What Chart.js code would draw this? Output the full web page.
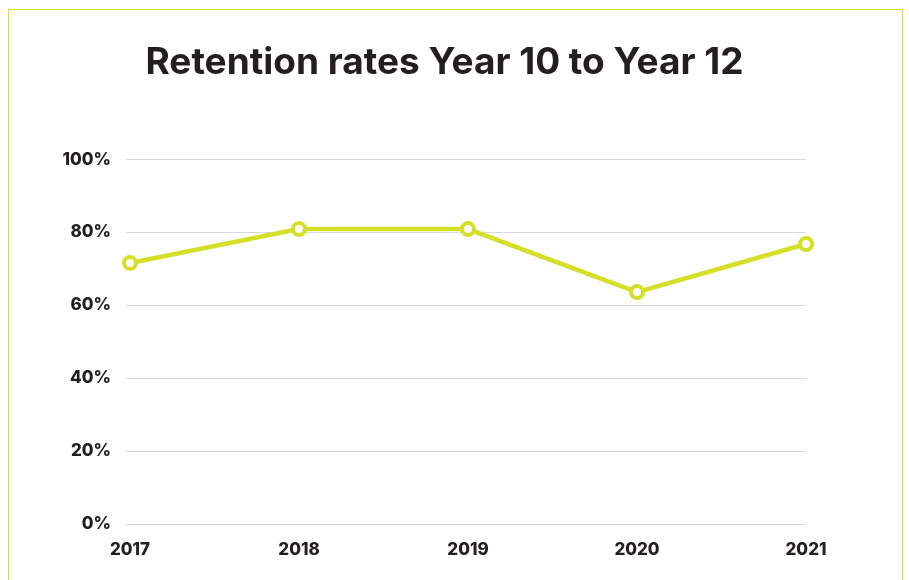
<!DOCTYPE html>
<html>
<head>
<meta charset="utf-8">
<title>Retention rates</title>
<script src="https://cdn.jsdelivr.net/npm/chart.js@4/dist/chart.umd.min.js"></script>
<style>
    body { margin: 0; background: #fff; overflow: hidden; }
    .frame {
        position: absolute; left: 8px; top: 9px; width: 895px; height: 620px;
        box-sizing: border-box; border: 1.5px solid #d4df27;
    }
    #chart { position: absolute; left: 0; top: 0; }
</style>
</head>
<body>
<div class="frame"></div>
<canvas id="chart" width="909" height="580"></canvas>
<script>
const years = ['2017', '2018', '2019', '2020', '2021'];
const retention = [71.6, 80.9, 80.9, 63.6, 76.8];
const yTicks = [0, 20, 40, 60, 80, 100];

const lime = '#d4df27';
const ink = '#231f20';
const fontFamily = 'Inter, "Open Sans", sans-serif';
const tickFont = { family: fontFamily, size: 17, weight: '800' };

new Chart(document.getElementById('chart'), {
    type: 'line',
    data: {
        labels: years,
        datasets: [{
            data: retention,
            borderColor: lime,
            borderWidth: 4.5,
            tension: 0,
            pointRadius: 6,
            pointHoverRadius: 6,
            pointBorderWidth: 4,
            pointBorderColor: lime,
            pointBackgroundColor: '#fff'
        }]
    },
    options: {
        responsive: false,
        animation: false,
        layout: { padding: { left: 0, right: 20, top: 41, bottom: 0 } },
        plugins: {
            legend: { display: false },
            tooltip: { enabled: false },
            title: {
                display: true,
                text: 'Retention rates Year 10 to Year 12',
                color: ink,
                font: { family: fontFamily, size: 37, weight: 'bold', lineHeight: 1.2 },
                padding: { top: 0, bottom: 74 }
            }
        },
        scales: {
            x: {
                grid: { display: false },
                border: { display: false },
                afterFit: (scale) => { scale.height = 56; },
                ticks: { color: ink, padding: 8, font: tickFont }
            },
            y: {
                min: 0,
                max: 100,
                afterFit: (scale) => { scale.width = 130; },
                afterBuildTicks: (scale) => {
                    scale.ticks = yTicks.map(v => ({ value: v }));
                },
                border: { display: false },
                grid: { color: '#d9d9d9', lineWidth: 1, tickLength: 4, drawTicks: true },
                ticks: {
                    color: ink,
                    padding: 15,
                    font: tickFont,
                    callback: (v) => v + '%'
                }
            },
            // empty right-hand spacer so the plot ends where the title box allows
            spacer: {
                type: 'linear',
                position: 'right',
                min: 0,
                max: 100,
                grid: { display: false },
                border: { display: false },
                ticks: { display: false },
                afterFit: (scale) => { scale.width = 83; }
            }
        }
    }
});
</script>
</body>
</html>
